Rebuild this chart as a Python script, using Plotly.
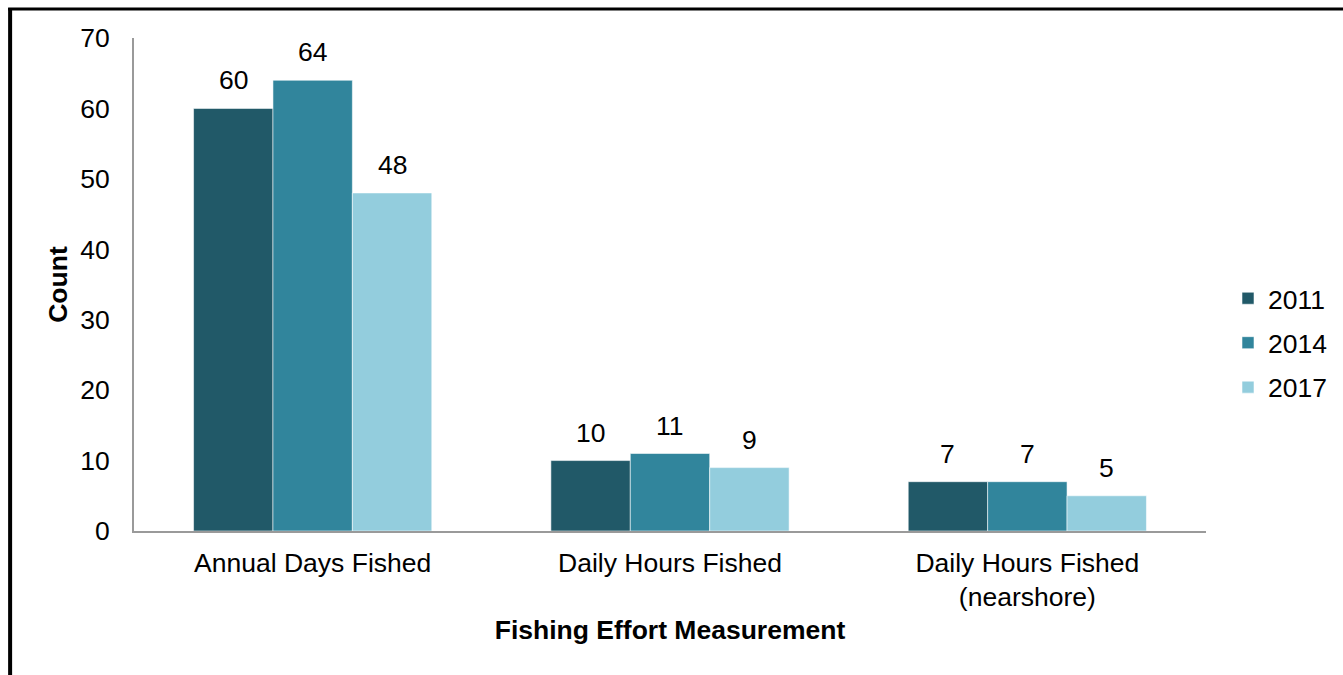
import plotly.graph_objects as go

# Fishing effort survey counts by year
categories = ["Annual Days Fished", "Daily Hours Fished", "Daily Hours Fished<br>(nearshore)"]
years = ["2011", "2014", "2017"]
counts_2011 = [60, 10, 7]
counts_2014 = [64, 11, 7]
counts_2017 = [48, 9, 5]
series = [counts_2011, counts_2014, counts_2017]
colors = ["#215968", "#31859C", "#93CDDD"]

W, H = 1343, 675
ML, MR, MT, MB = 134, 136, 38, 144
FONT = "Liberation Sans, Arial, sans-serif"
FS = 26.5
BARGAP = 1 / 3

pw, ph = W - ML - MR, H - MT - MB


def px_x(px):
    return (px - ML) / pw


def px_y(py):
    return (H - MB - py) / ph


fig = go.Figure()
for i, (yr, vals, col) in enumerate(zip(years, series, colors)):
    fig.add_trace(go.Bar(
        name=yr, x=categories, y=vals,
        marker=dict(color=col, line=dict(color="rgba(255,255,255,0.55)", width=1)),
        legendgroup=yr,
    ))

# value labels above each bar
bar_w = (1 - BARGAP) / len(years)
annotations = []
for i, vals in enumerate(series):
    off = (i - (len(years) - 1) / 2) * bar_w
    for j, v in enumerate(vals):
        annotations.append(dict(
            x=j + off, y=v, xref="x", yref="y", text=str(v), showarrow=False,
            yanchor="bottom", yshift=11, font=dict(family=FONT, size=FS, color="#000"),
        ))

# frame lines along top and left
shapes = [
    dict(type="line", xref="paper", yref="paper", x0=px_x(10), x1=px_x(10),
         y0=px_y(8), y1=px_y(H + 5), line=dict(color="#000", width=4)),
    dict(type="line", xref="paper", yref="paper", x0=px_x(8), x1=px_x(W + 5),
         y0=px_y(9), y1=px_y(9), line=dict(color="#000", width=3)),
]

fig.update_layout(
    width=W, height=H,
    margin=dict(l=ML, r=MR, t=MT, b=MB, pad=0),
    paper_bgcolor="white", plot_bgcolor="white",
    barmode="group", bargap=BARGAP, bargroupgap=0,
    font=dict(family=FONT, size=FS, color="#000"),
    xaxis=dict(
        showline=True, linecolor="#9a9a9a", linewidth=2, ticks="", showgrid=False,
        ticklabelstandoff=7,
        title=dict(text="<b>Fishing Effort Measurement</b>", standoff=9,
                   font=dict(family=FONT, size=FS)),
    ),
    yaxis=dict(
        range=[0, 70], dtick=10, showline=True, linecolor="#9a9a9a", linewidth=2,
        ticks="", showgrid=False, zeroline=False, ticklabelstandoff=17,
        title=dict(text="<b>Count</b>", standoff=5, font=dict(family=FONT, size=FS)),
    ),
    legend=dict(x=px_x(1228), xanchor="left", y=px_y(343), yanchor="middle",
                tracegroupgap=7, font=dict(family=FONT, size=FS), bgcolor="rgba(0,0,0,0)"),
    annotations=annotations,
    shapes=shapes,
    showlegend=True,
)

fig.write_html("out.html")
